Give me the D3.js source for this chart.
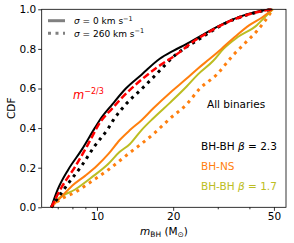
<!DOCTYPE html>
<html>
<head>
<meta charset="utf-8">
<script src="https://cdn.jsdelivr.net/npm/d3@7"></script>
<style>
  body { margin: 0; background: #fff; }
  svg { display: block; font-family: "DejaVu Sans", sans-serif; }
</style>
</head>
<body>
<svg id="chart" width="294" height="243"></svg>
<script>
// values (m_BH in Msun, cumulative fraction)
const bhbh23M   = [6.6, 7.0, 7.7, 8.7, 9.8, 10.25, 11.5, 13, 15, 17.7, 20, 22.6, 26, 31.6, 36.7, 42.8, 49];
const bhbh23Cdf = [0, 0.09, 0.19, 0.29, 0.40, 0.44, 0.52, 0.60, 0.67, 0.75, 0.79, 0.825, 0.87, 0.928, 0.963, 0.988, 1.0];

const powerM   = [6.6, 7.24, 8.2, 9.24, 10.3, 11.5, 12.7, 15, 17.2, 21.3, 23.3, 26, 31.6, 36.7, 42.8, 49];
const powerCdf = [0, 0.10, 0.205, 0.32, 0.43, 0.50, 0.56, 0.645, 0.705, 0.785, 0.825, 0.865, 0.925, 0.96, 0.985, 1.0];

const bhbh23KickM   = [6.6, 7.7, 8.7, 9.8, 11.1, 11.6, 13, 14.8, 16.5, 18, 20, 22, 25, 28, 31.6, 36.7, 42.8, 49];
const bhbh23KickCdf = [0, 0.12, 0.21, 0.31, 0.40, 0.44, 0.52, 0.59, 0.65, 0.70, 0.76, 0.80, 0.845, 0.885, 0.925, 0.96, 0.985, 1.0];

const bhnsM   = [6.6, 7.2, 8.0, 9.0, 10, 11.1, 12.3, 13.5, 15, 16.7, 19.5, 22.6, 25, 27.9, 31, 35, 40, 45, 49.5];
const bhnsCdf = [0, 0.05, 0.11, 0.16, 0.21, 0.27, 0.34, 0.39, 0.44, 0.50, 0.58, 0.65, 0.70, 0.75, 0.80, 0.86, 0.92, 0.96, 1.0];

const bhbh17M   = [6.6, 7.0, 8.2, 9.5, 11.1, 12.3, 13.5, 15, 16.7, 19.5, 22.6, 25, 28.8, 31.6, 36, 42.8, 46, 49.5];
const bhbh17Cdf = [0, 0.04, 0.09, 0.15, 0.22, 0.28, 0.32, 0.39, 0.45, 0.53, 0.61, 0.67, 0.74, 0.80, 0.86, 0.92, 0.96, 1.0];

const bhnsKickM   = [6.6, 7.0, 8.3, 9.5, 11.1, 13, 16.7, 19.5, 22.6, 25.5, 29.7, 34.6, 38.5, 42.8, 46, 49.5];
const bhnsKickCdf = [0, 0.03, 0.08, 0.13, 0.19, 0.26, 0.37, 0.45, 0.52, 0.60, 0.67, 0.77, 0.83, 0.89, 0.94, 1.0];

const xMajorTicks = [10, 20, 50];
const xMinorTicks = [7, 8, 9, 30, 40];
const yTicks = [0, 0.2, 0.4, 0.6, 0.8, 1.0];

const svg = d3.select("#chart");
const plotLeft = 41.7, plotRight = 286, plotTop = 9.3, plotBottom = 207.3;

const x = d3.scaleLog().domain([6.05, 55.8]).range([plotLeft, plotRight]);
const y = d3.scaleLinear().domain([0, 1]).range([plotBottom, plotTop]);

const series = [
  { m: bhnsKickM,   c: bhnsKickCdf,   color: "#ff7f0e", style: "dot" },
  { m: bhbh17M,     c: bhbh17Cdf,     color: "#bcbd22", style: "solid" },
  { m: bhnsM,       c: bhnsCdf,       color: "#ff7f0e", style: "solid" },
  { m: bhbh23KickM, c: bhbh23KickCdf, color: "#000000", style: "dot" },
  { m: bhbh23M,     c: bhbh23Cdf,     color: "#000000", style: "solid" },
  { m: powerM,      c: powerCdf,      color: "#ff0000", style: "dash" }
];

const line = d3.line()
  .x(d => x(d[0]))
  .y(d => y(d[1]))
  .curve(d3.curveMonotoneX);

const plot = svg.append("g");
plot.selectAll(".cdf")
  .data(series)
  .enter()
  .append("path")
  .attr("class", "cdf")
  .attr("d", s => line(s.m.map((v, i) => [v, s.c[i]])))
  .attr("fill", "none")
  .attr("stroke", s => s.color)
  .attr("stroke-width", s => s.style === "solid" ? 2 : s.style === "dash" ? 2.5 : 3)
  .attr("stroke-dasharray", s => s.style === "dash" ? "7,3" : s.style === "dot" ? "3,4.5" : null);

// axes
const xAxis = d3.axisBottom(x).tickValues(xMajorTicks).tickFormat(d3.format("d")).tickSize(3.5).tickPadding(2.2);
const xMinor = d3.axisBottom(x).tickValues(xMinorTicks).tickFormat("").tickSize(2);
const yAxis = d3.axisLeft(y).tickValues(yTicks).tickFormat(d3.format(".1f")).tickSize(3.5).tickPadding(2);

const gx = svg.append("g").attr("transform", `translate(0,${plotBottom})`).call(xAxis);
svg.append("g").attr("transform", `translate(0,${plotBottom})`).call(xMinor).select(".domain").remove();
const gy = svg.append("g").attr("transform", `translate(${plotLeft},0)`).call(yAxis);
[gx, gy].forEach(g => {
  g.select(".domain").remove();
  g.selectAll("text").attr("font-size", 10.5).attr("fill", "#000").attr("font-family", "DejaVu Sans");
});
svg.selectAll(".tick line").attr("stroke", "#000").attr("stroke-width", 0.8);

svg.append("rect")
  .attr("x", plotLeft).attr("y", plotTop)
  .attr("width", plotRight - plotLeft).attr("height", plotBottom - plotTop)
  .attr("fill", "none").attr("stroke", "#000").attr("stroke-width", 0.8);

// axis labels
const xl = svg.append("text").attr("x", 164).attr("y", 235).attr("text-anchor", "middle").attr("font-size", 10.5);
xl.append("tspan").attr("font-style", "italic").text("m");
xl.append("tspan").attr("font-size", 7.5).attr("dy", 2).text("BH");
xl.append("tspan").attr("dy", -2).text(" (M");
xl.append("tspan").attr("font-size", 7.5).attr("dy", 2).text("⊙");
xl.append("tspan").attr("dy", -2).text(")");

svg.append("text")
  .attr("transform", "translate(15,108.3) rotate(-90)")
  .attr("text-anchor", "middle").attr("font-size", 10.5).text("CDF");

// legend
const legend = [
  { label: "0", dash: null, yy: 20.7 },
  { label: "260", dash: "3,4.5", yy: 33.3 }
];
legend.forEach(l => {
  svg.append("line").attr("x1", 48).attr("x2", 65).attr("y1", l.yy).attr("y2", l.yy)
    .attr("stroke", "#808080").attr("stroke-width", 3).attr("stroke-dasharray", l.dash);
  const t = svg.append("text").attr("x", 74).attr("y", l.yy + 3.3).attr("font-size", 9);
  t.append("tspan").attr("font-style", "italic").text("σ");
  t.append("tspan").text(" = " + l.label + " km s");
  t.append("tspan").attr("font-size", 6.5).attr("dy", -3.5).text("−1");
});

// annotations
const pw = svg.append("text").attr("x", 73).attr("y", 99).attr("fill", "#ff0000").attr("font-size", 11.5);
pw.append("tspan").attr("font-style", "italic").text("m");
pw.append("tspan").attr("font-size", 8).attr("dy", -5).text("−2/3");

svg.append("text").attr("x", 207).attr("y", 108).attr("font-size", 10.5).text("All binaries");

const labels = [
  { pre: "BH-BH ", beta: "2.3", color: "#000000", yy: 150 },
  { pre: "BH-NS", beta: null, color: "#ff7f0e", yy: 170 },
  { pre: "BH-BH ", beta: "1.7", color: "#bcbd22", yy: 190 }
];
labels.forEach(l => {
  const t = svg.append("text").attr("x", 201).attr("y", l.yy).attr("fill", l.color).attr("font-size", 10.5);
  t.append("tspan").text(l.pre);
  if (l.beta) {
    t.append("tspan").attr("font-style", "italic").text("β");
    t.append("tspan").text(" = " + l.beta);
  }
});
</script>
</body>
</html>
